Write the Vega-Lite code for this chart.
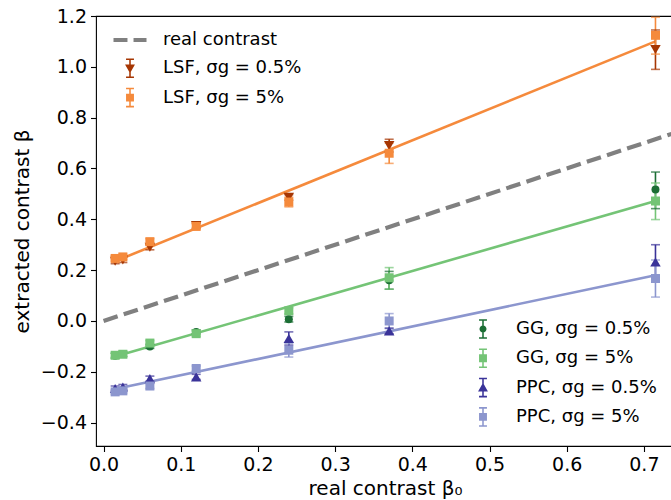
{
  "$schema": "https://vega.github.io/schema/vega-lite/v6.json",
  "width": 578,
  "height": 430,
  "autosize": {"type": "none"},
  "padding": {"left": 96, "top": 16, "right": 0, "bottom": 54},
  "config": {
    "font": "DejaVu Sans",
    "view": {"stroke": "#000", "strokeWidth": 1.1},
    "axis": {
      "domain": false, "grid": false, "tickColor": "#000", "tickSize": 5.5, "tickWidth": 1.1,
      "labelColor": "#000", "labelFontSize": 19, "labelFont": "DejaVu Sans",
      "titleFont": "DejaVu Sans", "titleFontSize": 20, "titleFontWeight": "normal", "titleColor": "#000",
      "labelPadding": 4
    },
    "axisX": {"titlePadding": 4},
    "axisY": {"titlePadding": 8},
    "legend": {
      "labelFont": "DejaVu Sans", "labelFontSize": 18, "labelColor": "#000", "labelLimit": 400,
      "symbolSize": 484, "labelOffset": 22, "rowPadding": 8.3, "padding": 0, "title": null, "orient": "none"
    }
  },
  "datasets": {
    "ref": [
      {"x": 0, "y": 0, "series": "real contrast"},
      {"x": 0.76, "y": 0.76, "series": "real contrast"}
    ],
    "fitA": [
      {"x": 0.015, "y": 0.235, "series": "LSF, σg = 5%"},
      {"x": 0.715, "y": 1.1, "series": "LSF, σg = 5%"}
    ],
    "fitB": [
      {"x": 0.015, "y": -0.14, "series": "GG, σg = 5%"},
      {"x": 0.715, "y": 0.472, "series": "GG, σg = 5%"},
      {"x": 0.015, "y": -0.268, "series": "PPC, σg = 5%"},
      {"x": 0.715, "y": 0.18, "series": "PPC, σg = 5%"}
    ],
    "ptsA": [
      {"series": "LSF, σg = 0.5%", "x": 0.015, "y": 0.235, "lo": 0.225, "hi": 0.245},
      {"series": "LSF, σg = 0.5%", "x": 0.025, "y": 0.24, "lo": 0.23, "hi": 0.25},
      {"series": "LSF, σg = 0.5%", "x": 0.06, "y": 0.29, "lo": 0.28, "hi": 0.3},
      {"series": "LSF, σg = 0.5%", "x": 0.12, "y": 0.375, "lo": 0.365, "hi": 0.385},
      {"series": "LSF, σg = 0.5%", "x": 0.24, "y": 0.487, "lo": 0.475, "hi": 0.497},
      {"series": "LSF, σg = 0.5%", "x": 0.37, "y": 0.69, "lo": 0.665, "hi": 0.715},
      {"series": "LSF, σg = 0.5%", "x": 0.715, "y": 1.068, "lo": 0.99, "hi": 1.145},
      {"series": "LSF, σg = 5%", "x": 0.015, "y": 0.246, "lo": 0.236, "hi": 0.256},
      {"series": "LSF, σg = 5%", "x": 0.025, "y": 0.252, "lo": 0.242, "hi": 0.262},
      {"series": "LSF, σg = 5%", "x": 0.06, "y": 0.312, "lo": 0.3, "hi": 0.324},
      {"series": "LSF, σg = 5%", "x": 0.12, "y": 0.372, "lo": 0.362, "hi": 0.382},
      {"series": "LSF, σg = 5%", "x": 0.24, "y": 0.468, "lo": 0.449, "hi": 0.487},
      {"series": "LSF, σg = 5%", "x": 0.37, "y": 0.66, "lo": 0.62, "hi": 0.7},
      {"series": "LSF, σg = 5%", "x": 0.715, "y": 1.124, "lo": 1.05, "hi": 1.195}
    ],
    "ptsB": [
      {"series": "GG, σg = 0.5%", "x": 0.015, "y": -0.137, "lo": -0.147, "hi": -0.127},
      {"series": "GG, σg = 0.5%", "x": 0.025, "y": -0.13, "lo": -0.14, "hi": -0.12},
      {"series": "GG, σg = 0.5%", "x": 0.06, "y": -0.1, "lo": -0.108, "hi": -0.092},
      {"series": "GG, σg = 0.5%", "x": 0.12, "y": -0.043, "lo": -0.051, "hi": -0.035},
      {"series": "GG, σg = 0.5%", "x": 0.24, "y": 0.007, "lo": -0.004, "hi": 0.018},
      {"series": "GG, σg = 0.5%", "x": 0.37, "y": 0.16, "lo": 0.125, "hi": 0.195},
      {"series": "GG, σg = 0.5%", "x": 0.715, "y": 0.517, "lo": 0.442, "hi": 0.586},
      {"series": "GG, σg = 5%", "x": 0.015, "y": -0.135, "lo": -0.143, "hi": -0.127},
      {"series": "GG, σg = 5%", "x": 0.025, "y": -0.131, "lo": -0.139, "hi": -0.123},
      {"series": "GG, σg = 5%", "x": 0.06, "y": -0.087, "lo": -0.097, "hi": -0.077},
      {"series": "GG, σg = 5%", "x": 0.12, "y": -0.05, "lo": -0.06, "hi": -0.04},
      {"series": "GG, σg = 5%", "x": 0.24, "y": 0.04, "lo": 0.028, "hi": 0.052},
      {"series": "GG, σg = 5%", "x": 0.37, "y": 0.17, "lo": 0.125, "hi": 0.21},
      {"series": "GG, σg = 5%", "x": 0.715, "y": 0.472, "lo": 0.399, "hi": 0.543},
      {"series": "PPC, σg = 0.5%", "x": 0.015, "y": -0.266, "lo": -0.276, "hi": -0.256},
      {"series": "PPC, σg = 0.5%", "x": 0.025, "y": -0.26, "lo": -0.27, "hi": -0.25},
      {"series": "PPC, σg = 0.5%", "x": 0.06, "y": -0.227, "lo": -0.237, "hi": -0.217},
      {"series": "PPC, σg = 0.5%", "x": 0.12, "y": -0.22, "lo": -0.23, "hi": -0.21},
      {"series": "PPC, σg = 0.5%", "x": 0.24, "y": -0.069, "lo": -0.095, "hi": -0.043},
      {"series": "PPC, σg = 0.5%", "x": 0.37, "y": -0.039, "lo": -0.05, "hi": -0.028},
      {"series": "PPC, σg = 0.5%", "x": 0.715, "y": 0.232, "lo": 0.16, "hi": 0.3},
      {"series": "PPC, σg = 5%", "x": 0.015, "y": -0.279, "lo": -0.287, "hi": -0.271},
      {"series": "PPC, σg = 5%", "x": 0.025, "y": -0.275, "lo": -0.283, "hi": -0.267},
      {"series": "PPC, σg = 5%", "x": 0.06, "y": -0.256, "lo": -0.266, "hi": -0.246},
      {"series": "PPC, σg = 5%", "x": 0.12, "y": -0.187, "lo": -0.197, "hi": -0.177},
      {"series": "PPC, σg = 5%", "x": 0.24, "y": -0.115, "lo": -0.142, "hi": -0.088},
      {"series": "PPC, σg = 5%", "x": 0.37, "y": 0.0, "lo": -0.03, "hi": 0.029},
      {"series": "PPC, σg = 5%", "x": 0.715, "y": 0.167, "lo": 0.094, "hi": 0.24}
    ]
  },
  "encoding": {
    "x": {
      "field": "x", "type": "quantitative", "title": "real contrast β₀",
      "scale": {"domain": [-0.0098, 0.739], "nice": false, "zero": false},
      "axis": {"values": [0, 0.1, 0.2, 0.3, 0.4, 0.5, 0.6, 0.7], "format": ".1f"}
    }
  },
  "layer": [
    {
      "encoding": {
        "color": {
          "field": "series", "type": "nominal",
          "scale": {"domain": ["real contrast", "LSF, σg = 0.5%", "LSF, σg = 5%"], "range": ["#808080", "#a63603", "#f58a3c"]},
          "legend": {
            "orient": "none", "legendX": 23, "legendY": 13,
            "encode": {
              "symbols": {
                "update": {
                  "shape": {"signal": "['M-1.5,-0.18H-0.23V0.18H-1.5Z M0.32,-0.18H1.5V0.18H0.32Z', 'M-0.07,-0.82H0.07V0.82H-0.07Z M-0.36,-0.89H0.36V-0.75H-0.36Z M-0.36,0.75H0.36V0.89H-0.36Z M-0.45,-0.35H0.45L0,0.45Z', 'M-0.07,-0.82H0.07V0.82H-0.07Z M-0.36,-0.89H0.36V-0.75H-0.36Z M-0.36,0.75H0.36V0.89H-0.36Z M-0.36,-0.36H0.36V0.36H-0.36Z'][datum.index]"},
                  "fill": {"signal": "['#808080', '#a63603', '#f58a3c'][datum.index]"},
                  "stroke": {"value": "transparent"},
                  "strokeWidth": {"value": 0},
                  "strokeDash": {"value": []},
                  "opacity": {"value": 1},
                  "size": {"value": 484}
                }
              }
            }
          }
        },
        "y": {"field": "y", "type": "quantitative", "title": "extracted contrast β",
          "scale": {"domain": [-0.492, 1.2], "nice": false, "zero": false},
          "axis": {"values": [-0.4, -0.2, 0, 0.2, 0.4, 0.6, 0.8, 1.0, 1.2], "format": ".1f"}}
      },
      "layer": [
        {
          "data": {"name": "ref"},
          "mark": {"type": "line", "strokeWidth": 4.2, "strokeDash": [14.8, 6.4], "clip": true}
        },
        {
          "data": {"name": "fitA"},
          "mark": {"type": "line", "strokeWidth": 2.6}
        },
        {
          "data": {"name": "ptsA"},
          "mark": {"type": "rule", "strokeWidth": 1.6},
          "encoding": {
            "y": {"field": "lo", "type": "quantitative", "title": "extracted contrast β",
              "scale": {"domain": [-0.492, 1.2], "nice": false, "zero": false},
              "axis": {"values": [-0.4, -0.2, 0, 0.2, 0.4, 0.6, 0.8, 1.0, 1.2], "format": ".1f"}},
            "y2": {"field": "hi"}
          }
        },
        {
          "data": {"name": "ptsA"},
          "mark": {"type": "tick", "orient": "horizontal", "size": 9, "thickness": 1.6},
          "encoding": {
            "y": {"field": "lo", "type": "quantitative", "title": "extracted contrast β",
              "scale": {"domain": [-0.492, 1.2], "nice": false, "zero": false},
              "axis": {"values": [-0.4, -0.2, 0, 0.2, 0.4, 0.6, 0.8, 1.0, 1.2], "format": ".1f"}}
          }
        },
        {
          "data": {"name": "ptsA"},
          "mark": {"type": "tick", "orient": "horizontal", "size": 9, "thickness": 1.6},
          "encoding": {
            "y": {"field": "hi", "type": "quantitative", "title": "extracted contrast β",
              "scale": {"domain": [-0.492, 1.2], "nice": false, "zero": false},
              "axis": {"values": [-0.4, -0.2, 0, 0.2, 0.4, 0.6, 0.8, 1.0, 1.2], "format": ".1f"}}
          }
        },
        {
          "data": {"name": "ptsA"},
          "transform": [{"filter": "datum.series === 'LSF, σg = 0.5%'"}],
          "mark": {"type": "point", "filled": true, "opacity": 1, "shape": "triangle-down", "size": 110}
        },
        {
          "data": {"name": "ptsA"},
          "transform": [{"filter": "datum.series === 'LSF, σg = 5%'"}],
          "mark": {"type": "point", "filled": true, "opacity": 1, "shape": "square", "size": 81}
        }
      ]
    },
    {
      "encoding": {
        "color": {
          "field": "series", "type": "nominal",
          "scale": {"domain": ["GG, σg = 0.5%", "GG, σg = 5%", "PPC, σg = 0.5%", "PPC, σg = 5%"], "range": ["#1b6e34", "#74c476", "#3a3399", "#8c96ce"]},
          "legend": {
            "orient": "none", "legendX": 376, "legendY": 302,
            "encode": {
              "symbols": {
                "update": {
                  "shape": {"signal": "['M-0.07,-0.82H0.07V0.82H-0.07Z M-0.36,-0.89H0.36V-0.75H-0.36Z M-0.36,0.75H0.36V0.89H-0.36Z M-0.32,0A0.32,0.32 0 1,1 0.32,0A0.32,0.32 0 1,1 -0.32,0Z', 'M-0.07,-0.82H0.07V0.82H-0.07Z M-0.36,-0.89H0.36V-0.75H-0.36Z M-0.36,0.75H0.36V0.89H-0.36Z M-0.36,-0.36H0.36V0.36H-0.36Z', 'M-0.07,-0.82H0.07V0.82H-0.07Z M-0.36,-0.89H0.36V-0.75H-0.36Z M-0.36,0.75H0.36V0.89H-0.36Z M0,-0.45L0.45,0.35H-0.45Z', 'M-0.07,-0.82H0.07V0.82H-0.07Z M-0.36,-0.89H0.36V-0.75H-0.36Z M-0.36,0.75H0.36V0.89H-0.36Z M-0.36,-0.36H0.36V0.36H-0.36Z'][datum.index]"},
                  "fill": {"signal": "['#1b6e34', '#74c476', '#3a3399', '#8c96ce'][datum.index]"},
                  "stroke": {"value": "transparent"},
                  "strokeWidth": {"value": 0},
                  "strokeDash": {"value": []},
                  "opacity": {"value": 1},
                  "size": {"value": 484}
                }
              }
            }
          }
        },
        "y": {"field": "y", "type": "quantitative", "title": "extracted contrast β",
          "scale": {"domain": [-0.492, 1.2], "nice": false, "zero": false},
          "axis": {"values": [-0.4, -0.2, 0, 0.2, 0.4, 0.6, 0.8, 1.0, 1.2], "format": ".1f"}}
      },
      "layer": [
        {
          "data": {"name": "fitB"},
          "mark": {"type": "line", "strokeWidth": 2.6}
        },
        {
          "data": {"name": "ptsB"},
          "mark": {"type": "rule", "strokeWidth": 1.6},
          "encoding": {
            "y": {"field": "lo", "type": "quantitative", "title": "extracted contrast β",
              "scale": {"domain": [-0.492, 1.2], "nice": false, "zero": false},
              "axis": {"values": [-0.4, -0.2, 0, 0.2, 0.4, 0.6, 0.8, 1.0, 1.2], "format": ".1f"}},
            "y2": {"field": "hi"}
          }
        },
        {
          "data": {"name": "ptsB"},
          "mark": {"type": "tick", "orient": "horizontal", "size": 9, "thickness": 1.6},
          "encoding": {
            "y": {"field": "lo", "type": "quantitative", "title": "extracted contrast β",
              "scale": {"domain": [-0.492, 1.2], "nice": false, "zero": false},
              "axis": {"values": [-0.4, -0.2, 0, 0.2, 0.4, 0.6, 0.8, 1.0, 1.2], "format": ".1f"}}
          }
        },
        {
          "data": {"name": "ptsB"},
          "mark": {"type": "tick", "orient": "horizontal", "size": 9, "thickness": 1.6},
          "encoding": {
            "y": {"field": "hi", "type": "quantitative", "title": "extracted contrast β",
              "scale": {"domain": [-0.492, 1.2], "nice": false, "zero": false},
              "axis": {"values": [-0.4, -0.2, 0, 0.2, 0.4, 0.6, 0.8, 1.0, 1.2], "format": ".1f"}}
          }
        },
        {
          "data": {"name": "ptsB"},
          "transform": [{"filter": "datum.series === 'GG, σg = 0.5%'"}],
          "mark": {"type": "point", "filled": true, "opacity": 1, "shape": "circle", "size": 64}
        },
        {
          "data": {"name": "ptsB"},
          "transform": [{"filter": "datum.series === 'GG, σg = 5%'"}],
          "mark": {"type": "point", "filled": true, "opacity": 1, "shape": "square", "size": 81}
        },
        {
          "data": {"name": "ptsB"},
          "transform": [{"filter": "datum.series === 'PPC, σg = 0.5%'"}],
          "mark": {"type": "point", "filled": true, "opacity": 1, "shape": "triangle-up", "size": 110}
        },
        {
          "data": {"name": "ptsB"},
          "transform": [{"filter": "datum.series === 'PPC, σg = 5%'"}],
          "mark": {"type": "point", "filled": true, "opacity": 1, "shape": "square", "size": 81}
        }
      ]
    }
  ],
  "resolve": {"scale": {"color": "independent"}}
}
